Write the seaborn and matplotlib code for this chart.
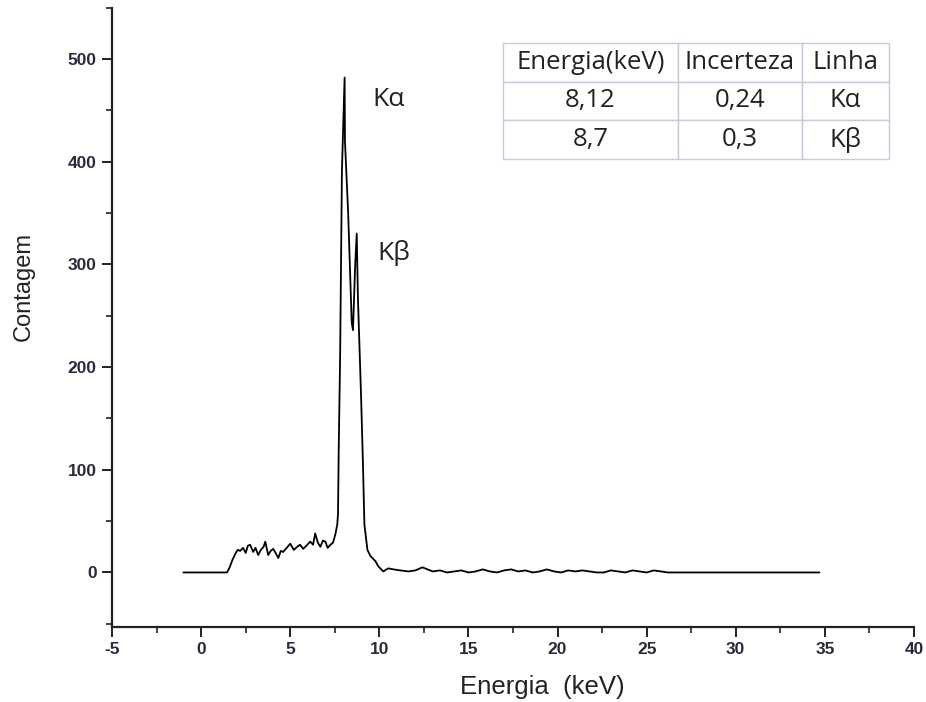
import matplotlib
matplotlib.use("Agg")
import matplotlib.pyplot as plt
import seaborn as sns
from matplotlib.ticker import MultipleLocator

# ---- data ----
energy = [-1.0, 1.45, 1.6, 1.75, 1.91, 2.05, 2.19, 2.35, 2.5, 2.62, 2.75, 2.92,
          3.05, 3.2, 3.35, 3.5, 3.6, 3.76, 3.9, 4.04, 4.18, 4.33, 4.47, 4.6,
          4.8, 5.0, 5.2, 5.39, 5.55, 5.73, 5.9, 6.12, 6.28, 6.4, 6.55, 6.69,
          6.83, 6.97, 7.1, 7.25, 7.4, 7.53, 7.64, 7.68, 7.72, 7.80, 7.90, 8.05,
          8.07, 8.25, 8.45, 8.52, 8.64, 8.73, 8.80, 8.97, 9.08, 9.16, 9.33,
          9.5, 9.78, 9.94, 10.22, 10.5, 10.79, 11.18, 11.63, 12.02, 12.42, 12.7,
          13.0, 13.4, 13.8, 14.2, 14.6, 15.0, 15.4, 15.8, 16.2, 16.6, 17.0, 17.4,
          17.8, 18.2, 18.6, 19.0, 19.4, 19.8, 20.2, 20.6, 21.0, 21.4, 21.8, 22.2,
          22.6, 23.0, 23.4, 23.8, 24.2, 24.6, 25.0, 25.4, 25.8, 26.2, 34.7]
counts = [0, 0, 5, 12, 18, 22, 21, 24, 19, 26, 27, 20,
          24, 17, 22, 25, 30, 17, 21, 23, 19, 14, 21, 20,
          24, 28, 22, 25, 27, 23, 26, 30, 27, 38, 29, 25,
          31, 30, 24, 27, 29, 37, 47, 57, 120, 212, 391, 482,
          420, 350, 243, 236, 298, 330, 266, 174, 106, 47, 22,
          16, 11, 6, 1, 4, 3, 2, 1, 2, 5, 3,
          1, 2, 0, 1, 2, 0, 1, 3, 1, 0, 2, 3,
          1, 2, 0, 1, 3, 1, 0, 2, 1, 2, 1, 0,
          0, 2, 1, 0, 2, 1, 0, 2, 1, 0, 0]

table_header = ["Energia(keV)", "Incerteza", "Linha"]
table_rows = [["8,12", "0,24", "Kα"],
              ["8,7", "0,3", "Kβ"]]
peak_labels = ["Kα", "Kβ"]
peak_label_pos = [(9.6, 461), (9.9, 311)]

# ---- figure ----
sns.set_style("ticks")
plt.rcParams["font.family"] = ["Liberation Sans", "DejaVu Sans"]
plt.rcParams["axes.unicode_minus"] = False

fig = plt.figure(figsize=(9.26, 7.02), dpi=100)
ax = fig.add_axes([0.121, 0.107, 0.866, 0.882])

sns.lineplot(x=energy, y=counts, estimator=None, sort=False, color="black",
             linewidth=1.3, ax=ax)

ax.set_xlim(-5, 40)
ax.set_ylim(-53, 550)
ax.xaxis.set_major_locator(MultipleLocator(5))
ax.xaxis.set_minor_locator(MultipleLocator(2.5))
ax.yaxis.set_major_locator(MultipleLocator(100))
ax.yaxis.set_minor_locator(MultipleLocator(50))
ax.set_yticks([0, 100, 200, 300, 400, 500])

sns.despine(ax=ax)
for s in ["left", "bottom"]:
    ax.spines[s].set_linewidth(1.6)
    ax.spines[s].set_color("#222222")
ax.tick_params(which="major", direction="out", length=7, width=1.4,
               color="#222222", labelsize=12.5, labelcolor="#2a2a3a", pad=4)
ax.tick_params(which="minor", direction="out", length=4, width=1.2,
               color="#222222")
for lab in ax.get_xticklabels() + ax.get_yticklabels():
    lab.set_fontweight("bold")

ax.set_xlabel("Energia  (keV)", fontsize=18.5, color="#222222")
ax.xaxis.set_label_coords(0.536, -0.078)
ax.set_ylabel("Contagem", fontsize=17, color="#222222")
ax.yaxis.set_label_coords(-0.097, 0.549)

for txt, (xx, yy) in zip(peak_labels, peak_label_pos):
    ax.text(xx, yy, txt, fontsize=19, color="#222222", va="center",
            ha="left", family=["Open Sans", "DejaVu Sans"])

tbl = ax.table(cellText=table_rows, colLabels=table_header,
               cellLoc="center", colWidths=[0.453, 0.321, 0.225],
               bbox=[0.4875, 0.756, 0.481, 0.187])
tbl.auto_set_font_size(False)
for (r, c), cell in tbl.get_celld().items():
    cell.set_edgecolor("#c3cbdc")
    cell.set_linewidth(1.0)
    cell.set_facecolor("white")
    cell.get_text().set_fontsize(18.5)
    cell.get_text().set_color("#222222")
    cell.get_text().set_family(["Open Sans", "DejaVu Sans"])

fig.savefig("out.png", dpi=100)
